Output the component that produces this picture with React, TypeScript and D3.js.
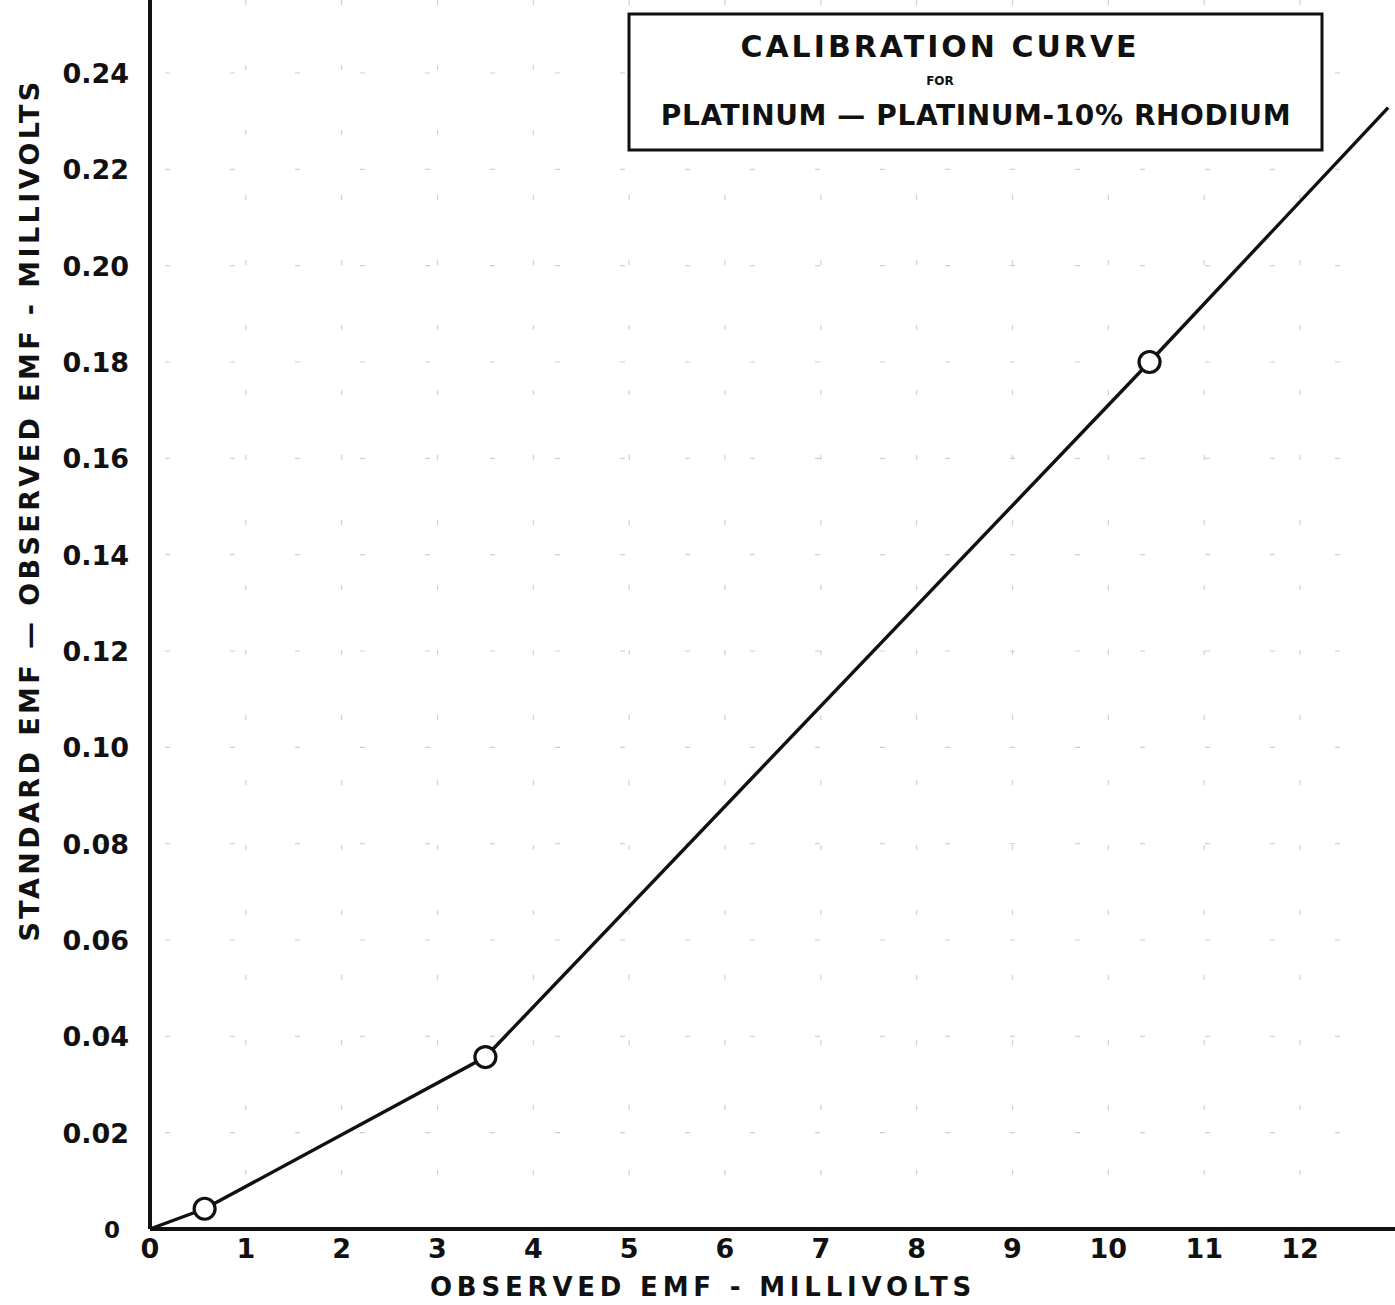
import { useEffect, useRef } from 'react';
import * as d3 from 'd3';

// observed EMF (mV) vs. correction (standard - observed, mV)
const curveX = [0, 0.57, 3.5, 10.43, 12.92];
const curveY = [0, 0.0042, 0.0357, 0.18, 0.2328];
const pointX = [0.57, 3.5, 10.43];
const pointY = [0.0042, 0.0357, 0.18];
const xTicks = [0, 1, 2, 3, 4, 5, 6, 7, 8, 9, 10, 11, 12];
const yTicks = [0.02, 0.04, 0.06, 0.08, 0.1, 0.12, 0.14, 0.16, 0.18, 0.2, 0.22, 0.24];
const yTickLabels = ['0.02', '0.04', '0.06', '0.08', '0.10', '0.12', '0.14', '0.16', '0.18', '0.20', '0.22', '0.24'];

const FONT = '"DejaVu Sans", sans-serif';

const App = () => {
  const svgRef = useRef<SVGSVGElement>(null);

  useEffect(() => {
    const svg = d3.select(svgRef.current);
    svg.selectAll('*').remove();

    const width = 1395;
    const height = 1305;

    const x = d3.scaleLinear().domain([0, 12]).range([150, 1300]);
    const y = d3.scaleLinear().domain([0, 0.24]).range([1229, 73]);

    svg.attr('viewBox', [0, 0, width, height]);

    // faint dashed grid (the old graph paper shows through only here and there)
    const grid = svg.append('g').attr('stroke', '#aaa').attr('stroke-width', 1.2)
      .attr('stroke-dasharray', '5 60').attr('opacity', 0.55);
    grid.selectAll('line.h')
      .data(yTicks)
      .join('line')
        .attr('class', 'h')
        .attr('x1', 100).attr('x2', width)
        .attr('y1', d => y(d)).attr('y2', d => y(d));
    grid.selectAll('line.v')
      .data(xTicks.slice(1))
      .join('line')
        .attr('class', 'v')
        .attr('x1', d => x(d)).attr('x2', d => x(d))
        .attr('y1', 0).attr('y2', y(0));

    // axes
    svg.append('line')
      .attr('x1', x(0)).attr('x2', x(0))
      .attr('y1', 0).attr('y2', y(0))
      .attr('stroke', '#111').attr('stroke-width', 4);
    svg.append('line')
      .attr('x1', x(0)).attr('x2', width)
      .attr('y1', y(0)).attr('y2', y(0))
      .attr('stroke', '#111').attr('stroke-width', 4);

    // x tick labels
    svg.append('g')
      .attr('font-family', FONT).attr('font-weight', 'bold').attr('font-size', 27)
      .attr('fill', '#111').attr('text-anchor', 'middle')
      .selectAll('text')
      .data(xTicks)
      .join('text')
        .attr('x', d => x(d))
        .attr('y', y(0) + 29)
        .text(d => String(d));

    // y tick labels
    svg.append('g')
      .attr('font-family', FONT).attr('font-weight', 'bold').attr('font-size', 27)
      .attr('fill', '#111').attr('text-anchor', 'end')
      .selectAll('text')
      .data(yTicks)
      .join('text')
        .attr('x', 129)
        .attr('y', d => y(d) + 10)
        .text((d, i) => yTickLabels[i]);
    svg.append('text')
      .attr('x', 112).attr('y', y(0) + 9)
      .attr('font-family', FONT).attr('font-weight', 'bold').attr('font-size', 23)
      .attr('text-anchor', 'middle').attr('fill', '#111')
      .text('0');

    // curve
    const line = d3.line<number>()
      .x(i => x(curveX[i]))
      .y(i => y(curveY[i]));
    svg.append('path')
      .attr('d', line(d3.range(curveX.length)))
      .attr('fill', 'none')
      .attr('stroke', '#111')
      .attr('stroke-width', 3.4);

    svg.append('g')
      .selectAll('circle')
      .data(d3.range(pointX.length))
      .join('circle')
        .attr('cx', i => x(pointX[i]))
        .attr('cy', i => y(pointY[i]))
        .attr('r', 10.5)
        .attr('fill', '#fff')
        .attr('stroke', '#111')
        .attr('stroke-width', 3.2);

    // axis titles
    svg.append('text')
      .attr('x', 703).attr('y', 1296)
      .attr('font-family', FONT).attr('font-weight', 'bold').attr('font-size', 26)
      .attr('letter-spacing', 4.8)
      .attr('text-anchor', 'middle').attr('fill', '#111')
      .text('OBSERVED EMF - MILLIVOLTS');

    svg.append('text')
      .attr('transform', `translate(39,510) rotate(-90)`)
      .attr('font-family', FONT).attr('font-weight', 'bold').attr('font-size', 27)
      .attr('letter-spacing', 3.4)
      .attr('text-anchor', 'middle').attr('fill', '#111')
      .text('STANDARD EMF — OBSERVED EMF - MILLIVOLTS');

    // title box
    const box = svg.append('g');
    box.append('rect')
      .attr('x', 629).attr('y', 14)
      .attr('width', 693).attr('height', 136)
      .attr('fill', '#fff')
      .attr('stroke', '#111').attr('stroke-width', 3);
    box.append('text')
      .attr('x', 940).attr('y', 57)
      .attr('font-family', FONT).attr('font-weight', 'bold').attr('font-size', 30)
      .attr('letter-spacing', 3)
      .attr('text-anchor', 'middle').attr('fill', '#111')
      .text('CALIBRATION CURVE');
    box.append('text')
      .attr('x', 940).attr('y', 85)
      .attr('font-family', FONT).attr('font-weight', 'bold').attr('font-size', 12)
      .attr('text-anchor', 'middle').attr('fill', '#111')
      .text('FOR');
    box.append('text')
      .attr('x', 976).attr('y', 125)
      .attr('font-family', FONT).attr('font-weight', 'bold').attr('font-size', 28)
      .attr('letter-spacing', 0.6)
      .attr('text-anchor', 'middle').attr('fill', '#111')
      .text('PLATINUM — PLATINUM-10% RHODIUM');
  }, []);

  return (
    <div style={{ position: 'absolute', left: 0, top: 0, width: 1395, height: 1305, background: '#fff' }}>
      <svg ref={svgRef} width={1395} height={1305} style={{ display: 'block' }} />
    </div>
  );
};

export default App;
